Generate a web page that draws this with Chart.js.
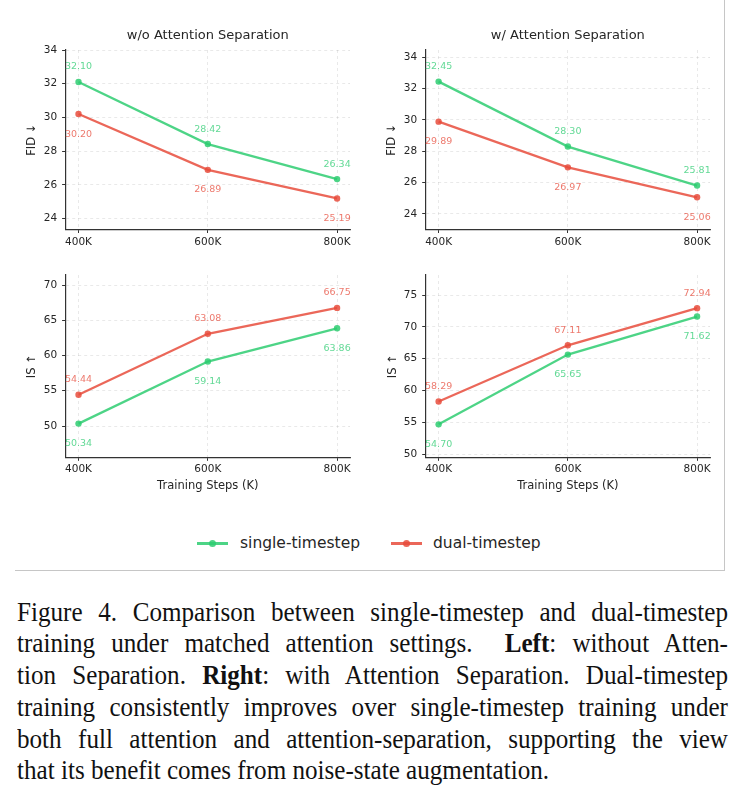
<!DOCTYPE html>
<html>
<head>
<meta charset="utf-8">
<script src="https://cdn.jsdelivr.net/npm/chart.js@4.4.0/dist/chart.umd.min.js"></script>
<style>
  html, body { margin: 0; padding: 0; background: #ffffff; }
  body { width: 740px; height: 809px; position: relative; overflow: hidden; font-family: "DejaVu Sans", sans-serif; }
  canvas { position: absolute; }
  #frame { position: absolute; left: 15px; top: 0; width: 710px; height: 571px; box-sizing: border-box;
           border-right: 1.5px solid #c6c6c6; border-bottom: 1.5px solid #c6c6c6; }
  .legline { position: absolute; height: 2.4px; }
  .legdot { position: absolute; width: 7px; height: 7px; border-radius: 50%; }
  .legtext { position: absolute; font-family: "DejaVu Sans", sans-serif; font-size: 15.5px; line-height: 20px; color: #262626; white-space: nowrap; }
  #caption { position: absolute; left: 17px; top: 596.5px; width: 764.5px; font-family: "Liberation Serif", "Times New Roman", serif;
             font-size: 27px; line-height: 31.8px; color: #111; transform: scaleX(0.93); transform-origin: 0 0; }
  #caption div { text-align: justify; text-align-last: justify; white-space: nowrap; }
  #caption div.last { text-align: left; text-align-last: left; }
</style>
</head>
<body>
<div id="frame"></div>
<canvas id="c1" width="370" height="260" style="left:0;top:0"></canvas>
<canvas id="c2" width="370" height="260" style="left:370px;top:0"></canvas>
<canvas id="c3" width="370" height="250" style="left:0;top:260px"></canvas>
<canvas id="c4" width="370" height="250" style="left:370px;top:260px"></canvas>

<div class="legline" style="left:197px;top:542.3px;width:31px;background:rgba(46,204,113,0.85)"></div>
<div class="legdot" style="left:209px;top:540px;background:rgba(46,204,113,0.85)"></div>
<div class="legtext" style="left:240px;top:532.5px">single-timestep</div>
<div class="legline" style="left:391px;top:542.3px;width:31px;background:rgba(231,76,60,0.85)"></div>
<div class="legdot" style="left:403px;top:540px;background:rgba(231,76,60,0.85)"></div>
<div class="legtext" style="left:433px;top:532.5px">dual-timestep</div>

<div id="caption">
  <div>Figure 4. Comparison between single-timestep and dual-timestep</div>
  <div>training under matched attention settings. &nbsp;<b>Left</b>: without Atten-</div>
  <div>tion Separation. <b>Right</b>: with Attention Separation. Dual-timestep</div>
  <div>training consistently improves over single-timestep training under</div>
  <div>both full attention and attention-separation, supporting the view</div>
  <div class="last">that its benefit comes from noise-state augmentation.</div>
</div>

<script>
// ---------------- data ----------------
const steps = [400, 600, 800];
const stepLabels = ['400K', '600K', '800K'];
const seriesNames = ['single-timestep', 'dual-timestep'];

const fidWoSingle = [32.10, 28.42, 26.34];
const fidWoDual   = [30.20, 26.89, 25.19];
const fidWSingle  = [32.45, 28.30, 25.81];
const fidWDual    = [29.89, 26.97, 25.06];

const isWoSingle = [50.34, 59.14, 63.86];
const isWoDual   = [54.44, 63.08, 66.75];
const isWSingle  = [54.70, 65.65, 71.62];
const isWDual    = [58.29, 67.11, 72.94];

const fidTicks  = [24, 26, 28, 30, 32, 34];
const isTicksWo = [50, 55, 60, 65, 70];
const isTicksW  = [50, 55, 60, 65, 70, 75];

const xRange     = [380, 820];
const fidRangeWo = [23.35, 34.0];
const fidRangeW  = [23.0, 34.47];
const isRangeWo  = [45.56, 71.42];
const isRangeW   = [49.53, 78.14];

const panelTitles = ['w/o Attention Separation', 'w/ Attention Separation'];
const yTitles = ['FID ↓', 'IS ↑'];
const xTitle = 'Training Steps (K)';

// ---------------- style ----------------
const GREEN = 'rgba(46,204,113,0.85)';
const RED = 'rgba(231,76,60,0.85)';
const GREEN_TXT = 'rgba(46,204,113,0.75)';
const RED_TXT = 'rgba(231,76,60,0.75)';
const FONT = '"DejaVu Sans", sans-serif';
const TEXT = '#262626';

const valueLabels = {
  id: 'valueLabels',
  afterDatasetsDraw(chart) {
    const ctx = chart.ctx;
    ctx.save();
    ctx.font = '9.5px ' + FONT;
    ctx.textAlign = 'center';
    ctx.textBaseline = 'middle';
    chart.data.datasets.forEach((ds, di) => {
      const meta = chart.getDatasetMeta(di);
      meta.data.forEach((pt, i) => {
        const v = ds.data[i].y;
        ctx.fillStyle = ds.labelColor;
        ctx.fillText(v.toFixed(2), pt.x, pt.y + (ds.labelAbove ? -15 : 20));
      });
    });
    ctx.restore();
  }
};

const panelTitle = {
  id: 'panelTitle',
  afterDraw(chart, args, opts) {
    if (!opts.text) return;
    const ctx = chart.ctx, ca = chart.chartArea;
    ctx.save();
    ctx.font = '13px ' + FONT;
    ctx.fillStyle = TEXT;
    ctx.textAlign = 'center';
    ctx.textBaseline = 'middle';
    ctx.fillText(opts.text, (ca.left + ca.right) / 2, opts.y);
    ctx.restore();
  }
};

function series(vals) { return steps.map((s, i) => ({ x: s, y: vals[i] })); }

function makePanel(id, cfg) {
  const ds = [
    { label: seriesNames[0], data: series(cfg.single), borderColor: GREEN, backgroundColor: GREEN,
      labelColor: GREEN_TXT, labelAbove: cfg.singleAbove },
    { label: seriesNames[1], data: series(cfg.dual), borderColor: RED, backgroundColor: RED,
      labelColor: RED_TXT, labelAbove: !cfg.singleAbove }
  ].map(d => Object.assign(d, { borderWidth: 2.3, pointRadius: 3.2, pointBorderWidth: 0,
      pointBackgroundColor: d.borderColor, tension: 0, clip: false }));

  new Chart(document.getElementById(id), {
    type: 'line',
    data: { datasets: ds },
    options: {
      responsive: false, animation: false, devicePixelRatio: 1,
      layout: { padding: cfg.pad },
      plugins: { legend: { display: false }, tooltip: { enabled: false }, title: { display: false },
                 panelTitle: { text: cfg.title, y: 36 } },
      scales: {
        x: {
          type: 'linear', min: xRange[0], max: xRange[1],
          afterBuildTicks: s => { s.ticks = steps.map(v => ({ value: v })); },
          afterFit: s => { s.height = cfg.xh; },
          ticks: { callback: v => stepLabels[steps.indexOf(v)], font: { family: FONT, size: 10.5 },
                   color: TEXT, padding: 2.5, maxRotation: 0, autoSkip: false },
          grid: { color: 'rgba(0,0,0,0.11)', lineWidth: 0.8, tickColor: '#333', tickLength: 3.5, tickWidth: 1 },
          border: { color: '#333', width: 1.2, dash: [3, 3] },
          title: { display: !!cfg.xTitle, text: cfg.xTitle, font: { family: FONT, size: 11.5 }, color: TEXT,
                   padding: 0 }
        },
        y: {
          type: 'linear', min: cfg.yRange[0], max: cfg.yRange[1],
          afterBuildTicks: s => { s.ticks = cfg.yTicks.map(v => ({ value: v })); },
          afterFit: s => { s.width = cfg.yw; },
          ticks: { callback: v => String(v), font: { family: FONT, size: 10.5 }, color: TEXT, padding: 5 },
          grid: { color: 'rgba(0,0,0,0.11)', lineWidth: 0.8, tickColor: '#333', tickLength: 3.5, tickWidth: 1 },
          border: { color: '#333', width: 1.2, dash: [3, 3] },
          title: { display: true, text: cfg.yTitle, font: { family: FONT, size: 11.5 }, color: TEXT, padding: 0 }
        }
      }
    },
    plugins: [valueLabels, panelTitle]
  });
}

// top-left: FID w/o
makePanel('c1', { single: fidWoSingle, dual: fidWoDual, singleAbove: true, title: panelTitles[0],
  yTitle: yTitles[0], yTicks: fidTicks, yRange: fidRangeWo,
  pad: { left: 25.1, right: 20, top: 50, bottom: 5.5 }, yw: 40.5, xh: 25 });
// top-right: FID w/
makePanel('c2', { single: fidWSingle, dual: fidWDual, singleAbove: true, title: panelTitles[1],
  yTitle: yTitles[0], yTicks: fidTicks, yRange: fidRangeW,
  pad: { left: 15.1, right: 30, top: 50, bottom: 5.5 }, yw: 40.6, xh: 25 });
// bottom-left: IS w/o
makePanel('c3', { single: isWoSingle, dual: isWoDual, singleAbove: false, title: '',
  yTitle: yTitles[1], yTicks: isTicksWo, yRange: isRangeWo, xTitle: xTitle,
  pad: { left: 25.1, right: 20, top: 15, bottom: 17.1 }, yw: 40.5, xh: 35.6 });
// bottom-right: IS w/
makePanel('c4', { single: isWSingle, dual: isWDual, singleAbove: false, title: '',
  yTitle: yTitles[1], yTicks: isTicksW, yRange: isRangeW, xTitle: xTitle,
  pad: { left: 16.1, right: 30, top: 15, bottom: 17.1 }, yw: 39.6, xh: 35.6 });
</script>
</body>
</html>
